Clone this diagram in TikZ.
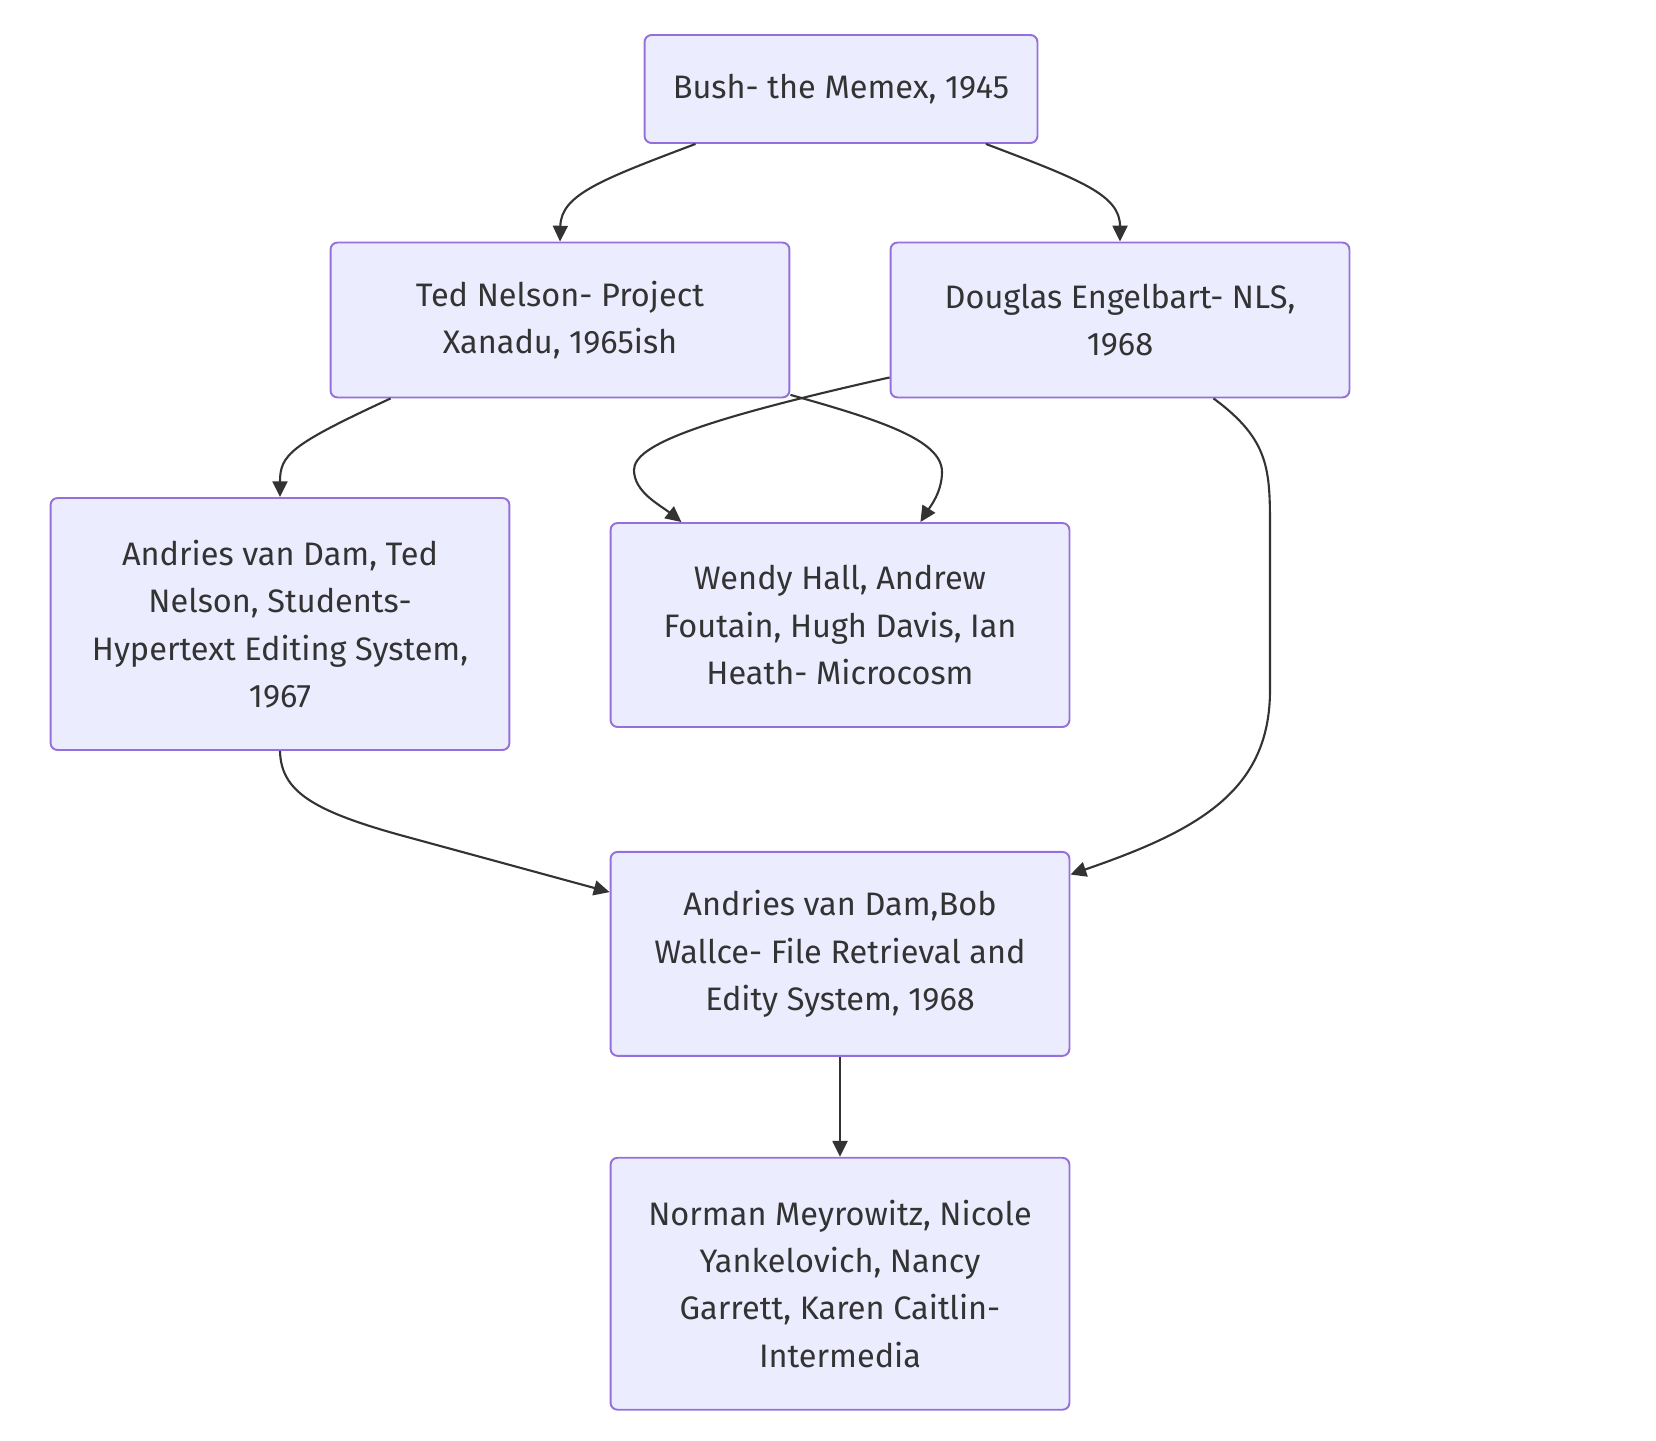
\documentclass[tikz,border=0pt]{standalone}
\usepackage{fontspec}
\setmainfont{Fira Sans}
\usepackage{xcolor}
\usetikzlibrary{positioning,arrows.meta,calc}
\definecolor{nodefill}{HTML}{ECECFF}
\definecolor{nodeline}{HTML}{9370DB}
\definecolor{ink}{HTML}{333333}
\tikzset{%
	block/.style    = {draw=nodeline, fill=nodefill, line width=1.1pt, rectangle,
		rounded corners=4pt, align=center, text=ink, inner sep=0pt,
		minimum width=9.18cm, font=\fontsize{18.5}{27}\selectfont},
	link/.style     = {draw=ink, line width=1.2pt, -{Triangle[length=9pt,width=8.5pt]}}
}

\begin{document}
\begin{tikzpicture}[x=0.02cm, y=-0.02cm]
	\useasboundingbox (0,0) rectangle (1656,1440);
	\draw
		node at (841,89)[block, minimum width=7.86cm, minimum height=2.16cm, name=bush]{Bush- the Memex, 1945}
		node at (560,320)[block, minimum height=3.1cm, name=ted]{Ted Nelson- Project\\Xanadu, 1965ish}
		node at (1120,320)[block, minimum height=3.1cm, name=doug]{Douglas Engelbart- NLS,\\1968}
		node at (280,624)[block, minimum height=5.04cm, name=hes]{Andries van Dam, Ted\\Nelson, Students-\\Hypertext Editing System,\\1967}
		node at (840,625)[block, minimum height=4.08cm, name=wendy]{Wendy Hall, Andrew\\Foutain, Hugh Davis, Ian\\Heath- Microcosm}
		node [block, minimum height=4.08cm, below=2.46cm of wendy] (fress) {Andries van Dam,Bob\\Wallce- File Retrieval and\\Edity System, 1968}
		node [block, minimum height=5.04cm, below=2cm of fress] (inter) {Norman Meyrowitz, Nicole\\Yankelovich, Nancy\\Garrett, Karen Caitlin-\\Intermedia};

		\draw[link](bush) .. controls (600,180) and (561,195) .. (ted.north);
		\draw[link](bush) .. controls (1081,180) and (1120,195) .. (doug.north);
		\draw[link](ted) .. controls (290,445) and (280,455) .. (hes.north);
		\draw[link](ted.-18) .. controls (880,420) and (942,440) .. (942,472) .. controls (942,492) and (930,507) .. (wendy.52);
		\draw[link](doug.194) .. controls (700,420) and (634,445) .. (634,470) .. controls (634,492) and (660,505) .. (wendy.147);
		\draw[link](doug.-40) .. controls (1270,440) and (1270,470) .. (1270,530) -- (1270,690) .. controls (1270,790) and (1200,830) .. (fress.19);
		\draw[link](hes.south) .. controls (281,790) and (310,810) .. (400,835) -- (fress.165);
		\draw[link](fress) -- (inter);
\end{tikzpicture}
\end{document}
